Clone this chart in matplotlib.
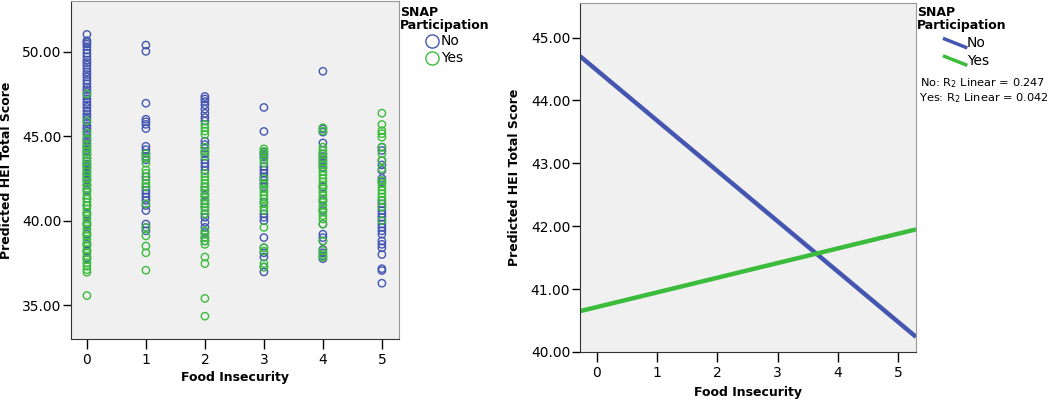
import numpy as np
import matplotlib
matplotlib.use("Agg")
import matplotlib.pyplot as plt
from matplotlib.lines import Line2D

plt.rcParams['font.family'] = ['DejaVu Sans']

# food insecurity levels (x) and predicted HEI scores per SNAP group
levels = [0, 1, 2, 3, 4, 5]

no_scores = [
    [51.02, 50.65, 50.55, 50.45, 50.3, 50.1, 49.9, 49.7, 49.5, 49.35, 49.2, 49.0,
     48.8, 48.65, 48.5, 48.3, 48.1, 47.9, 47.75, 47.6, 47.4, 47.2, 47.0, 46.85,
     46.7, 46.5, 46.3, 46.15, 46.0, 45.8, 45.6, 45.45, 45.3, 45.1, 44.9, 44.75,
     44.6, 44.4, 44.2, 44.05, 43.9, 43.7, 43.5, 43.35, 43.2, 43.0, 42.8, 42.6,
     42.4, 42.1, 41.8, 41.3, 40.9, 40.4, 39.8, 39.2, 38.6, 38.2, 37.8],
    [50.39, 50.02, 46.95, 46.0, 45.85, 45.7, 45.45, 44.4, 44.2, 44.0, 43.8, 43.6,
     42.6, 42.0, 41.8, 41.6, 41.4, 41.2, 40.9, 40.6, 39.8, 39.6, 39.4],
    [47.35, 47.2, 47.05, 46.85, 46.6, 46.35, 46.1, 45.9, 44.7, 44.5, 44.3, 44.1,
     43.96, 43.6, 43.4, 43.2, 42.97, 42.0, 41.8, 41.5, 41.2, 41.0, 40.8, 40.4,
     40.2, 39.9, 39.6, 39.3, 39.0, 38.8],
    [46.7, 45.28, 44.05, 43.9, 43.76, 43.2, 43.0, 42.8, 42.6, 42.4, 42.2, 42.0,
     41.1, 40.4, 40.2, 40.0, 39.0, 38.4, 38.1, 37.85, 37.26, 36.97],
    [48.84, 45.43, 45.24, 44.6, 43.96, 43.8, 43.6, 43.4, 43.17, 42.0, 41.2, 40.6,
     39.8, 39.2, 39.0, 38.8, 38.3, 38.1, 37.9, 37.75],
    [44.35, 44.15, 43.56, 43.3, 42.97, 42.5, 42.3, 41.2, 41.0, 40.8, 40.6, 40.4,
     40.2, 40.0, 39.8, 39.6, 39.4, 39.2, 38.8, 38.6, 38.4, 38.0, 37.16, 37.05, 36.3],
]

yes_scores = [
    [47.5, 45.9, 45.2, 44.85, 44.5, 44.3, 44.1, 43.9, 43.7, 43.5, 43.3, 43.1,
     42.9, 42.7, 42.5, 42.3, 42.1, 41.9, 41.7, 41.5, 41.3, 41.1, 40.9, 40.7,
     40.5, 40.3, 40.1, 39.9, 39.7, 39.5, 39.3, 39.1, 38.9, 38.7, 38.5, 38.3,
     38.1, 37.9, 37.7, 37.5, 37.3, 37.1, 36.95, 35.57],
    [43.96, 43.7, 43.4, 43.0, 42.8, 42.4, 42.2, 42.0, 41.0, 39.6, 39.1, 38.5,
     38.1, 37.07],
    [45.7, 45.5, 45.3, 45.1, 44.35, 44.1, 43.8, 42.8, 42.6, 42.4, 42.2, 42.0,
     41.8, 41.6, 41.4, 41.2, 41.0, 40.8, 40.6, 40.4, 39.4, 39.2, 39.0, 38.8,
     38.6, 37.85, 37.46, 35.4, 34.35],
    [44.25, 44.1, 43.96, 43.6, 43.4, 42.5, 42.2, 41.9, 41.7, 41.5, 41.3, 41.0,
     40.8, 40.6, 39.6, 38.4, 38.2, 37.46, 37.26],
    [45.5, 45.3, 44.35, 44.15, 43.95, 43.7, 43.5, 43.3, 43.1, 42.9, 42.7, 42.5,
     42.3, 42.1, 41.9, 41.7, 41.5, 41.3, 41.1, 40.9, 40.7, 40.5, 40.3, 40.1,
     39.8, 38.8, 38.24, 38.0, 37.85],
    [46.36, 45.69, 45.33, 45.15, 44.94, 44.35, 43.96, 43.56, 43.07, 42.38, 42.2,
     42.0, 41.8, 41.6, 41.4, 41.2, 40.8, 40.0],
]

# linear fit lines (intercept, slope) for No / Yes
fit_intercept = [44.48, 40.715]
fit_slope = [-0.80, 0.233]
r2_labels = ["No: R$_2$ Linear = 0.247", "Yes: R$_2$ Linear = 0.042"]

blue = "#4456b0"
green = "#3cbc3c"
bg = "#f0f0f0"

fig = plt.figure(figsize=(10.5, 4.01), dpi=100)
ax1 = fig.add_axes([0.0676, 0.1546, 0.3124, 0.8430])
ax2 = fig.add_axes([0.5524, 0.1222, 0.3200, 0.8703])


def style(ax):
    ax.set_facecolor(bg)
    for s in ["left", "bottom"]:
        ax.spines[s].set_color("#333333")
    for s in ["top", "right"]:
        ax.spines[s].set_color("#999999")
    ax.tick_params(axis="y", length=6, width=1, pad=1, labelsize=10)
    ax.tick_params(axis="x", length=7, width=1, pad=3, labelsize=10)
    ax.yaxis.set_major_formatter(matplotlib.ticker.FormatStrFormatter("%.2f"))
    ax.set_xticks(levels)


# ---- left: scatter ----
style(ax1)
for i, x in enumerate(levels):
    ax1.scatter([x] * len(no_scores[i]), no_scores[i], s=28, facecolors="none",
                edgecolors=blue, linewidths=1.0)
for i, x in enumerate(levels):
    ax1.scatter([x] * len(yes_scores[i]), yes_scores[i], s=28, facecolors="none",
                edgecolors=green, linewidths=1.0)
ax1.set_xlim(-0.27, 5.29)
ax1.set_ylim(33.0, 53.0)
ax1.set_yticks([35, 40, 45, 50])
ax1.set_xlabel("Food Insecurity", fontsize=9, fontweight="bold")
ax1.set_ylabel("Predicted HEI Total Score", fontsize=9, fontweight="bold")
ax1.xaxis.set_label_coords(0.5, -0.094)
ax1.yaxis.set_label_coords(-0.177, 0.5)

ax1.text(1.003, 0.985, "SNAP\nParticipation", transform=ax1.transAxes,
         fontsize=9, fontweight="bold", va="top", ha="left", linespacing=0.95)
for k, (lab, c) in enumerate([("No", blue), ("Yes", green)]):
    yy = 0.882 - k * 0.05
    ax1.plot([1.1], [yy], marker="o", ms=9.5, mfc="none", mec=c, mew=1,
             transform=ax1.transAxes, clip_on=False)
    ax1.text(1.128, yy, lab, transform=ax1.transAxes, fontsize=10,
             va="center", ha="left")

# ---- right: fit lines ----
style(ax2)
xl = np.array([-0.28, 5.30])
ax2.plot(xl, fit_intercept[0] + fit_slope[0] * xl, color=blue, lw=3.2,
         solid_capstyle="butt")
ax2.plot(xl, fit_intercept[1] + fit_slope[1] * xl, color=green, lw=3.2,
         solid_capstyle="butt")
ax2.set_xlim(-0.28, 5.30)
ax2.set_ylim(40.0, 45.55)
ax2.set_yticks([40, 41, 42, 43, 44, 45])
ax2.set_xlabel("Food Insecurity", fontsize=9, fontweight="bold")
ax2.set_ylabel("Predicted HEI Total Score", fontsize=9, fontweight="bold")
ax2.xaxis.set_label_coords(0.5, -0.098)
ax2.yaxis.set_label_coords(-0.176, 0.5)

ax2.text(1.003, 0.99, "SNAP\nParticipation", transform=ax2.transAxes,
         fontsize=9, fontweight="bold", va="top", ha="left", linespacing=0.95)
for k, (lab, c) in enumerate([("No", blue), ("Yes", green)]):
    yy = 0.885 - k * 0.05
    ax2.add_line(Line2D([1.085, 1.148], [yy + 0.012, yy - 0.012], color=c, lw=2.5,
                        transform=ax2.transAxes, clip_on=False))
    ax2.text(1.152, yy, lab, transform=ax2.transAxes, fontsize=10,
             va="center", ha="left")
for k, t in enumerate(r2_labels):
    ax2.text(1.012 - 0.003 * k, 0.77 - 0.043 * k, t, transform=ax2.transAxes,
             fontsize=8.2, va="center", ha="left")

fig.savefig("out.png", dpi=100)
